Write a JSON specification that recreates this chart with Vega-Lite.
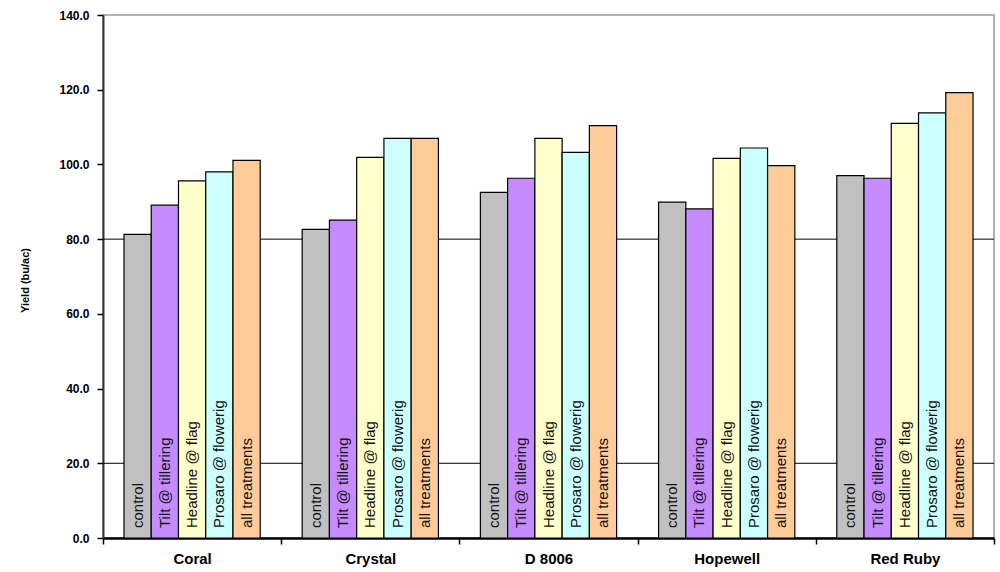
{
  "$schema": "https://vega.github.io/schema/vega-lite/v6.json",
  "width": 891,
  "height": 523,
  "autosize": "none",
  "padding": {"left": 103, "top": 15, "right": 6, "bottom": 34},
  "background": "white",
  "config": {
    "view": {"stroke": "#9a9a9a", "strokeWidth": 1.5},
    "font": "Liberation Sans"
  },
  "datasets": {
    "yields": [
      {"variety": "Coral", "treatment": "control", "yield": 81.3},
      {"variety": "Coral", "treatment": "Tilt @ tillering", "yield": 89.1},
      {"variety": "Coral", "treatment": "Headline @ flag", "yield": 95.6},
      {"variety": "Coral", "treatment": "Prosaro @ flowerig", "yield": 98.0},
      {"variety": "Coral", "treatment": "all treatments", "yield": 101.1},
      {"variety": "Crystal", "treatment": "control", "yield": 82.6},
      {"variety": "Crystal", "treatment": "Tilt @ tillering", "yield": 85.1},
      {"variety": "Crystal", "treatment": "Headline @ flag", "yield": 101.9},
      {"variety": "Crystal", "treatment": "Prosaro @ flowerig", "yield": 107.0},
      {"variety": "Crystal", "treatment": "all treatments", "yield": 107.0},
      {"variety": "D 8006", "treatment": "control", "yield": 92.5},
      {"variety": "D 8006", "treatment": "Tilt @ tillering", "yield": 96.3},
      {"variety": "D 8006", "treatment": "Headline @ flag", "yield": 107.0},
      {"variety": "D 8006", "treatment": "Prosaro @ flowerig", "yield": 103.2},
      {"variety": "D 8006", "treatment": "all treatments", "yield": 110.4},
      {"variety": "Hopewell", "treatment": "control", "yield": 89.9},
      {"variety": "Hopewell", "treatment": "Tilt @ tillering", "yield": 88.1},
      {"variety": "Hopewell", "treatment": "Headline @ flag", "yield": 101.6},
      {"variety": "Hopewell", "treatment": "Prosaro @ flowerig", "yield": 104.4},
      {"variety": "Hopewell", "treatment": "all treatments", "yield": 99.7},
      {"variety": "Red Ruby", "treatment": "control", "yield": 97.0},
      {"variety": "Red Ruby", "treatment": "Tilt @ tillering", "yield": 96.3},
      {"variety": "Red Ruby", "treatment": "Headline @ flag", "yield": 111.0},
      {"variety": "Red Ruby", "treatment": "Prosaro @ flowerig", "yield": 113.8},
      {"variety": "Red Ruby", "treatment": "all treatments", "yield": 119.2}
    ],
    "refs": [{"ref": 20}, {"ref": 80}]
  },
  "layer": [
    {
      "data": {"name": "refs"},
      "mark": {"type": "rule", "color": "black", "strokeWidth": 1},
      "encoding": {
        "y": {"field": "ref", "type": "quantitative", "scale": {"domain": [0, 140]}}
      }
    },
    {
      "data": {"name": "yields"},
      "mark": {"type": "bar", "stroke": "black", "strokeWidth": 1.2},
      "encoding": {
        "x": {
          "field": "variety", "type": "nominal",
          "sort": ["Coral", "Crystal", "D 8006", "Hopewell", "Red Ruby"],
          "scale": {"paddingInner": 0, "paddingOuter": 0},
          "axis": {
            "title": null, "labelAngle": 0, "tickBand": "extent",
            "labelFont": "Liberation Sans", "labelFontWeight": "bold", "labelFontSize": 15,
            "labelColor": "black", "labelPadding": 7,
            "domainColor": "black", "domainWidth": 2.5,
            "tickColor": "black", "tickWidth": 1.5, "tickSize": 6
          }
        },
        "xOffset": {
          "field": "treatment", "type": "nominal",
          "sort": ["control", "Tilt @ tillering", "Headline @ flag", "Prosaro @ flowerig", "all treatments"],
          "scale": {"paddingInner": 0, "paddingOuter": 0.77}
        },
        "y": {
          "field": "yield", "type": "quantitative",
          "scale": {"domain": [0, 140], "nice": false},
          "axis": {
            "title": "Yield (bu/ac)", "values": [0, 20, 40, 60, 80, 100, 120, 140],
            "format": ".1f", "grid": false,
            "labelFont": "Liberation Sans", "labelFontWeight": "bold", "labelFontSize": 12,
            "labelColor": "black", "labelPadding": 8,
            "titleFont": "Liberation Sans", "titleFontWeight": "bold", "titleFontSize": 11,
            "titleColor": "black", "titleX": -78, "titleY": 265,
            "titleAngle": 270, "titleAlign": "center", "titleBaseline": "middle",
            "domainColor": "#333", "domainWidth": 2,
            "tickColor": "black", "tickWidth": 1.5, "tickSize": 6
          }
        },
        "color": {
          "field": "treatment", "type": "nominal", "legend": null,
          "scale": {
            "domain": ["control", "Tilt @ tillering", "Headline @ flag", "Prosaro @ flowerig", "all treatments"],
            "range": ["#C0C0C0", "#C68CFF", "#FFFFCC", "#CCFFFF", "#FFCC99"]
          }
        }
      }
    },
    {
      "data": {"name": "yields"},
      "mark": {
        "type": "text", "angle": 270, "align": "left", "baseline": "middle",
        "dx": 10, "fontSize": 15, "font": "Liberation Sans", "color": "#111"
      },
      "encoding": {
        "x": {"field": "variety", "type": "nominal", "sort": ["Coral", "Crystal", "D 8006", "Hopewell", "Red Ruby"]},
        "xOffset": {"field": "treatment", "type": "nominal", "sort": ["control", "Tilt @ tillering", "Headline @ flag", "Prosaro @ flowerig", "all treatments"]},
        "y": {"datum": 0},
        "text": {"field": "treatment"}
      }
    }
  ]
}
